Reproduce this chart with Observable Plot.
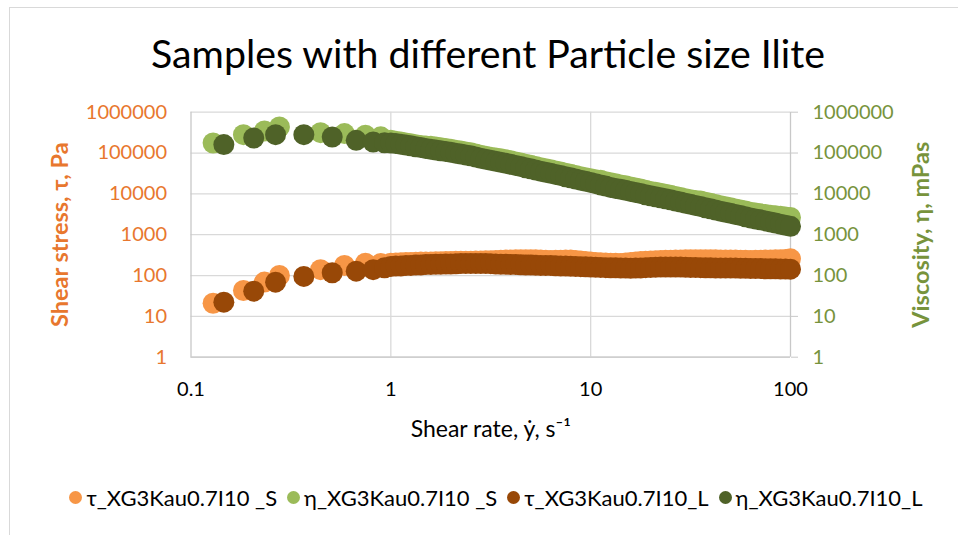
<!DOCTYPE html>
<html>
<head>
<meta charset="utf-8">
<script src="https://cdn.jsdelivr.net/npm/d3@7"></script>
<script src="https://cdn.jsdelivr.net/npm/@observablehq/plot@0.6"></script>
<style>
  html, body { margin: 0; padding: 0; background: #fff; }
  #wrap { position: relative; width: 958px; height: 535px; overflow: hidden; font-family: Lato, "Liberation Sans", sans-serif; }
  #frameTop { position: absolute; left: 9px; top: 7px; width: 949px; height: 0; border-top: 1px solid #d9d9d9; }
  #frameLeft { position: absolute; left: 9px; top: 7px; width: 0; height: 528px; border-left: 1px solid #d9d9d9; }
  #title { position: absolute; left: 9px; top: 33px; width: 958px; text-align: center; font-size: 39.3px; color: #000; line-height: 1; }
  #chart { position: absolute; left: 0; top: 90px; }
  #legend { position: absolute; left: 17px; top: 484px; width: 958px; display: flex; justify-content: center; align-items: center; font-size: 22px; color: #000; }
  .item { display: flex; align-items: center; margin: 0 5px; }
  .sw { width: 13px; height: 13px; border-radius: 50%; margin-right: 4px; }
</style>
</head>
<body>
<div id="wrap">
  <div id="frameTop"></div>
  <div id="frameLeft"></div>
  <div id="title">Samples with different Particle size Ilite</div>
  <div id="chart"></div>
  <div id="legend"></div>
</div>
<script>
// ---- Data ----
const seriesNames = ["τ_XG3Kau0.7I10 _S", "η_XG3Kau0.7I10 _S", "τ_XG3Kau0.7I10_L", "η_XG3Kau0.7I10_L"];
const seriesColors = ["#F79646", "#9BBB59", "#984807", "#4F6228"];

// shear rate, 1/s (early sparse points differ per sample; dense sweep from 1 to 100 s-1)
const shearRateEarlyS = [0.129, 0.183, 0.233, 0.277, 0.445, 0.586, 0.746, 0.89];
const shearRateEarlyL = [0.146, 0.206, 0.265, 0.367, 0.509, 0.671, 0.816, 0.93];
const shearRateSweep = [1.000, 1.059, 1.122, 1.189, 1.259, 1.334, 1.413, 1.496, 1.585, 1.679,
  1.778, 1.884, 1.995, 2.113, 2.239, 2.371, 2.512, 2.661, 2.818, 2.985,
  3.162, 3.350, 3.548, 3.758, 3.981, 4.217, 4.467, 4.732, 5.012, 5.309,
  5.623, 5.957, 6.310, 6.683, 7.079, 7.499, 7.943, 8.414, 8.913, 9.441,
  10.00, 10.59, 11.22, 11.89, 12.59, 13.34, 14.13, 14.96, 15.85, 16.79,
  17.78, 18.84, 19.95, 21.13, 22.39, 23.71, 25.12, 26.61, 28.18, 29.85,
  31.62, 33.50, 35.48, 37.58, 39.81, 42.17, 44.67, 47.32, 50.12, 53.09,
  56.23, 59.57, 63.10, 66.83, 70.79, 74.99, 79.43, 84.14, 89.13, 94.41, 100.0];

// shear stress τ, Pa
const tauS = [21, 43, 69, 100, 139, 177, 200, 196,
  201, 204, 206, 208, 210, 212, 213, 214, 215, 217,
  219, 221, 222, 223, 224, 225, 225, 227, 228, 230,
  231, 234, 237, 239, 241, 243, 244, 244, 244, 242,
  240, 237, 235, 236, 237, 239, 241, 235, 228, 220,
  213, 209, 206, 203, 200, 199, 198, 203, 208, 214,
  220, 224, 228, 231, 234, 236, 237, 239, 241, 243,
  244, 244, 244, 244, 244, 243, 241, 241, 240, 239,
  237, 236, 235, 236, 237, 239, 240, 242, 244, 248, 256];
const tauL = [22.3, 41.5, 68.9, 95, 117, 128, 139, 155,
  167, 170, 172, 175, 177, 180, 182, 185, 187, 189,
  190, 191, 192, 194, 196, 197, 198, 197, 196, 196,
  195, 192, 190, 189, 187, 185, 183, 181, 180, 178,
  177, 176, 175, 173, 172, 170, 169, 167, 165, 163,
  161, 160, 158, 156, 155, 155, 154, 152, 151, 152,
  154, 156, 158, 160, 161, 162, 162, 162, 161, 159,
  158, 157, 156, 155, 155, 154, 154, 154, 154, 152,
  151, 150, 149, 148, 148, 147, 147, 146, 145, 144, 143];

// viscosity η, mPas
const etaS = [175800, 282000, 346000, 434000, 316000, 299000, 272000, 249000,
  204800, 195000, 186100, 177000, 168200, 160500, 153000, 149000, 145900, 139800,
  134000, 128400, 123100, 117300, 111900, 106300, 101100, 94200, 87900, 83000,
  78400, 75200, 72100, 68100, 64300, 60500, 56900, 53300, 49900, 46700,
  43800, 41200, 38700, 36400, 34200, 32100, 30100, 28200, 26400, 24800,
  23300, 22300, 21400, 19900, 18600, 17600, 16600, 15700, 14800, 13900,
  13100, 12300, 11500, 10900, 10300, 9730, 9190, 8640, 8120, 7610,
  7130, 6890, 6660, 6240, 5850, 5480, 5140, 4830, 4540, 4270,
  4010, 3780, 3560, 3400, 3250, 3120, 3000, 2910, 2820, 2730, 2650];
const etaL = [160700, 233000, 282000, 282000, 247000, 205000, 186000, 178000,
  176000, 170000, 164000, 157000, 150200, 142800, 135700, 129300, 123200, 118000,
  113200, 108600, 104000, 99100, 94500, 89800, 85400, 79800, 74200, 70100,
  66250, 62600, 59200, 55900, 52800, 49700, 46700, 43700, 41000, 38400,
  36000, 33800, 31800, 29900, 28100, 26300, 24700, 23100, 21700, 20400,
  19100, 17800, 16600, 15500, 14400, 13600, 12900, 12200, 11500, 10800,
  10200, 9540, 8930, 8440, 7980, 7540, 7130, 6700, 6300, 5900,
  5530, 5200, 4880, 4580, 4290, 4020, 3770, 3540, 3330, 3130,
  2940, 2750, 2580, 2440, 2310, 2180, 2060, 1930, 1810, 1700, 1600];

const yTicks = [1, 10, 100, 1000, 10000, 100000, 1000000];
const xTicks = [0.1, 1, 10, 100];
const xGrid = [1, 10];

const axisTitleLeft = "Shear stress, τ, Pa";
const axisTitleRight = "Viscosity, η, mPas";
const axisTitleX = "Shear rate, ẏ, s⁻¹";

// ---- Build table (drawing order as in the original: τ_S, η_S, τ_L, η_L) ----
const shearRateS = shearRateEarlyS.concat(shearRateSweep);
const shearRateL = shearRateEarlyL.concat(shearRateSweep);
const seriesData = [
  [shearRateS, tauS], [shearRateS, etaS], [shearRateL, tauL], [shearRateL, etaL]
];
const rows = [];
seriesData.forEach(([xs, ys], i) => {
  xs.forEach((x, j) => rows.push({series: seriesNames[i], x, y: ys[j]}));
});

const orangeText = "#E8772E";
const greenText = "#77933C";

const chart = Plot.plot({
  width: 958,
  height: 370,
  marginTop: 21.7,
  marginBottom: 103.3,
  marginLeft: 190.5,
  marginRight: 168,
  style: {fontFamily: "Lato, 'Liberation Sans', sans-serif", background: "transparent", overflow: "visible"},
  x: {type: "log", domain: [0.1, 100]},
  y: {type: "log", domain: [1, 1000000]},
  color: {domain: seriesNames, range: seriesColors},
  marks: [
    Plot.gridY(yTicks, {stroke: "#d9d9d9", strokeOpacity: 1, strokeWidth: 1.3}),
    Plot.gridX(xGrid, {stroke: "#d9d9d9", strokeOpacity: 1, strokeWidth: 1.3}),
    Plot.ruleX([0.1, 100], {stroke: "#c8c8c8", strokeWidth: 1.3}),
    Plot.ruleY([1], {stroke: "#c8c8c8", strokeWidth: 1.3}),
    Plot.axisY(yTicks, {anchor: "left", tickSize: 0, tickPadding: 24, tickFormat: d3.format("d"), fill: orangeText, fontSize: 20, label: null}),
    Plot.axisY(yTicks, {anchor: "right", tickSize: 7, tickPadding: 15, tickFormat: d3.format("d"), fill: greenText, stroke: "#c8c8c8", fontSize: 20, label: null}),
    Plot.axisX(xTicks, {anchor: "bottom", tickSize: 0, tickPadding: 25, tickFormat: d => String(d), fill: "#000", fontSize: 20, label: null}),
    Plot.text([axisTitleLeft], {frameAnchor: "left", rotate: -90, dx: -131, textAnchor: "middle", text: d => d, fill: orangeText, fontSize: 23.5, fontWeight: "bold"}),
    Plot.text([axisTitleRight], {frameAnchor: "right", rotate: -90, dx: 131, textAnchor: "middle", text: d => d, fill: greenText, fontSize: 23.5, fontWeight: "bold"}),
    Plot.text([axisTitleX], {frameAnchor: "bottom", dy: 80, text: d => d, fill: "#000", fontSize: 23}),
    Plot.dot(rows, {x: "x", y: "y", fill: "series", r: 10.5, stroke: "none"})
  ]
});
document.getElementById("chart").appendChild(chart);

// ---- Legend ----
const legend = document.getElementById("legend");
seriesNames.forEach((name, i) => {
  const item = document.createElement("div");
  item.className = "item";
  const sw = document.createElement("span");
  sw.className = "sw";
  sw.style.background = seriesColors[i];
  const label = document.createElement("span");
  label.textContent = name;
  item.appendChild(sw);
  item.appendChild(label);
  legend.appendChild(item);
});
</script>
</body>
</html>
